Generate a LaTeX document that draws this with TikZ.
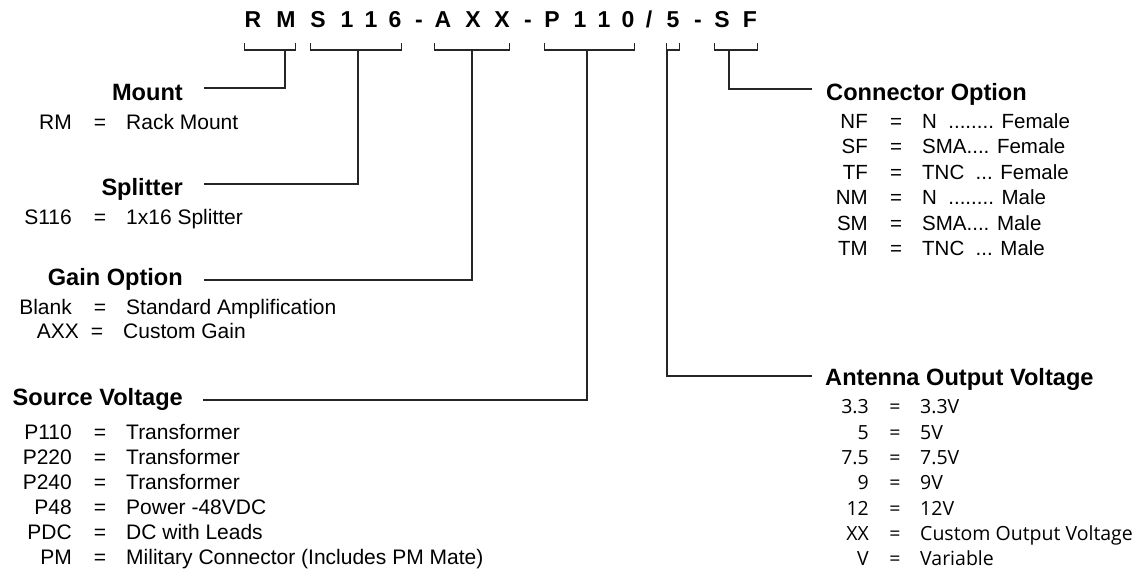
\documentclass[tikz,border=0pt]{standalone}
\usepackage{fontspec}
\setmainfont{Liberation Sans}
\newfontfamily\antfont{Open Sans}
\usetikzlibrary{positioning}
\newcommand\leadN{N~~........}
\newcommand\leadS{SMA....}
\newcommand\leadT{TNC~~...}

\begin{document}
\begin{tikzpicture}[
  x=1pt, y=-1pt,
  every node/.style={inner sep=0pt, font=\fontsize{21}{25}\selectfont},
  code/.style={font=\fontsize{23}{28}\selectfont\bfseries},
  head/.style={font=\fontsize{23.6}{27}\selectfont\bfseries},
  small/.style={font=\fontsize{19.5}{25}\selectfont\antfont},
  conrow/.style={font=\fontsize{20.5}{25}\selectfont},
  brk/.style={line width=1.2pt, black!85},
  key/.style={anchor=base east},
  eq/.style={anchor=base},
  val/.style={anchor=base west}
]
\useasboundingbox (0,0) rectangle (1147,573);

% part number, one node per character
\foreach \x/\ch [count=\i] in {253/R, 286/M, 318/S, 347/1, 371/1, 395/6,
    419/-, 443/A, 473/X, 502/X, 528/-, 552/P, 580/1, 604/1, 628/0,
    649/{/}, 673/5, 698/-, 722/S, 750/F}
  \node[code, anchor=base] (c\i) at (\x,27) {\ch};

% brackets under the groups
\foreach \a/\b in {1/2, 3/6, 8/10, 12/15, 17/17, 19/20}
  \draw[brk] ([yshift=-16pt]c\a.base west) -- ++(0,7)
    -| ([yshift=-16pt]c\b.base east);

\coordinate (jmount) at (285,50);
\coordinate (jsplit) at (358,50);
\coordinate (jgain) at (472,50);
\coordinate (jsrc) at (587,50);
\coordinate (jant) at (667,50);
\coordinate (jcon) at (729,50);

\coordinate (emount) at (204,88);
\coordinate (esplit) at (204,184);
\coordinate (egain) at (204,280);
\coordinate (esrc) at (203,400);
\coordinate (econ) at (812,89);
\coordinate (eant) at (812,376);

% headings
\node[head, anchor=base east] (mount) at (183,100) {Mount};
\node[head, anchor=base east] (split) at (183,195) {Splitter};
\node[head, anchor=base east] (gain) at (183,285) {Gain Option};
\node[head, anchor=base east] (src) at (183,405) {Source Voltage};
\node[head, anchor=base west] (con) at (826,100) {Connector Option};
\node[head, anchor=base west] (ant) at (825,385) {Antenna Output Voltage};

\draw[brk] (jmount) |- (emount);
\draw[brk] (jsplit) |- (esplit);
\draw[brk] (jgain) |- (egain);
\draw[brk] (jsrc) |- (esrc);
\draw[brk] (jcon) |- (econ);
\draw[brk] (jant) |- (eant);

% mount
\node[key] (rmk) at (72,129) {RM};
\node[eq] (rme) at (100,129) {=};
\node[val] (rmv) at (126,129) {Rack Mount};

% splitter
\node[key] (spk) at (72,224) {S116};
\node[eq] (spe) at (100,224) {=};
\node[val] (spv) at (126,224) {1x16 Splitter};

% gain
\node[key] (gnk1) at (72,314) {Blank};
\node[eq] (gne1) at (100,314) {=};
\node[val] (gnv1) at (126,314) {Standard Amplification};
\node[key] (gnk2) at (79,338) {AXX};
\node[eq] (gne2) at (97,338) {=};
\node[val] (gnv2) at (123,338) {Custom Gain};

% source voltage
\foreach \k/\v [count=\i] in {P110/Transformer, P220/Transformer,
    P240/Transformer, P48/Power -48VDC, PDC/DC with Leads,
    PM/{Military Connector (Includes PM Mate)}} {
  \node[key] (srck\i) at (72,414+25*\i) {\k};
  \node[eq] (srce\i) at (100,414+25*\i) {=};
  \node[val] (srcv\i) at (126,414+25*\i) {\v};
}

% connector
\foreach \k/\v [count=\i] in {NF/\leadN{} Female, SF/\leadS{} Female,
    TF/\leadT{} Female, NM/\leadN{} Male, SM/\leadS{} Male,
    TM/\leadT{} Male} {
  \node[conrow, key] (conk\i) at (868,102.5+25.5*\i) {\k};
  \node[conrow, eq] (cone\i) at (896,102.5+25.5*\i) {=};
  \node[conrow, val] (conv\i) at (922,102.5+25.5*\i) {\v};
}

% antenna output voltage
\foreach \k/\v [count=\i] in {3.3/3.3V, 5/5V, 7.5/7.5V, 9/9V, 12/12V,
    XX/Custom Output Voltage, V/Variable} {
  \node[small, key] (antk\i) at (869,388.5+25.3*\i) {\k};
  \node[small, eq] (ante\i) at (895,388.5+25.3*\i) {=};
  \node[small, val] (antv\i) at (920,388.5+25.3*\i) {\v};
}
\end{tikzpicture}
\end{document}
